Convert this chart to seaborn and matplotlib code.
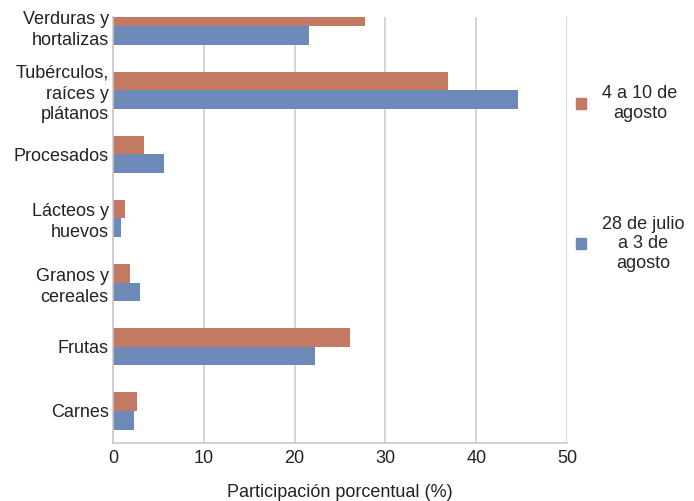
import pandas as pd
import matplotlib
matplotlib.use("Agg")
import matplotlib.pyplot as plt
import seaborn as sns
from matplotlib.ticker import FixedLocator

categorias = [
    "Verduras y\nhortalizas",
    "Tubérculos,\nraíces y\nplátanos",
    "Procesados",
    "Lácteos y\nhuevos",
    "Granos y\ncereales",
    "Frutas",
    "Carnes",
]
semana_actual = [27.8, 36.9, 3.4, 1.3, 1.9, 26.1, 2.6]     # 4 a 10 de agosto
semana_anterior = [21.6, 44.6, 5.6, 0.9, 3.0, 22.3, 2.3]   # 28 de julio a 3 de agosto
periodos = ["4 a 10 de\nagosto", "28 de julio\na 3 de\nagosto"]
colores = ["#C47A62", "#6C89B7"]
x_ticks = [0, 10, 20, 30, 40, 50]

df = pd.DataFrame({
    "categoria": categorias * 2,
    "valor": semana_actual + semana_anterior,
    "periodo": [periodos[0]] * len(categorias) + [periodos[1]] * len(categorias),
})

sns.set_style("white")
plt.rcParams["font.family"] = ["Liberation Sans", "DejaVu Sans"]

fig = plt.figure(figsize=(6.94, 5.01), dpi=100)
ax = fig.add_axes([113 / 694, 1 - 443 / 501, (567 - 113) / 694, (443 - 17) / 501])

sns.barplot(data=df, y="categoria", x="valor", hue="periodo", order=categorias,
            hue_order=periodos, palette=colores, width=0.58, saturation=1,
            orient="h", ax=ax, legend=False, linewidth=0)

ax.set_xlim(0, 50)
ax.set_ylim(6.5, -0.14)
ax.set_xticks(x_ticks)
ax.xaxis.grid(True, color="#CFCFCF", linewidth=1.2)
ax.set_axisbelow(True)

for s in ["top", "right"]:
    ax.spines[s].set_visible(False)
for s in ["left", "bottom"]:
    ax.spines[s].set_color("#C8C8C8")
    ax.spines[s].set_linewidth(1.2)

ax.tick_params(axis="x", length=0, labelsize=13, pad=5, colors="#222222")
ax.tick_params(axis="y", which="major", length=0, labelsize=13, pad=3, colors="#222222")
ax.yaxis.set_minor_locator(FixedLocator([i + 0.5 for i in range(len(categorias) - 1)]))
ax.tick_params(axis="y", which="minor", length=5, color="#C8C8C8", width=1.2)
for t in ax.get_yticklabels():
    t.set_multialignment("right")
    t.set_linespacing(1.3)

ax.set_ylabel("")
ax.set_xlabel("Participación porcentual (%)", fontsize=13, labelpad=12, color="#222222")

handles = [plt.Rectangle((0, 0), 1, 1, color=c) for c in colores]
leg = fig.legend(handles, periodos, loc="upper left",
                 bbox_to_anchor=(567 / 694, 1 - 76 / 501), frameon=False,
                 fontsize=13, handlelength=0.55, handleheight=0.55,
                 handletextpad=0.9, labelspacing=5.2, borderpad=0)
for t in leg.get_texts():
    t.set_multialignment("center")

fig.savefig("out.png", dpi=100)
